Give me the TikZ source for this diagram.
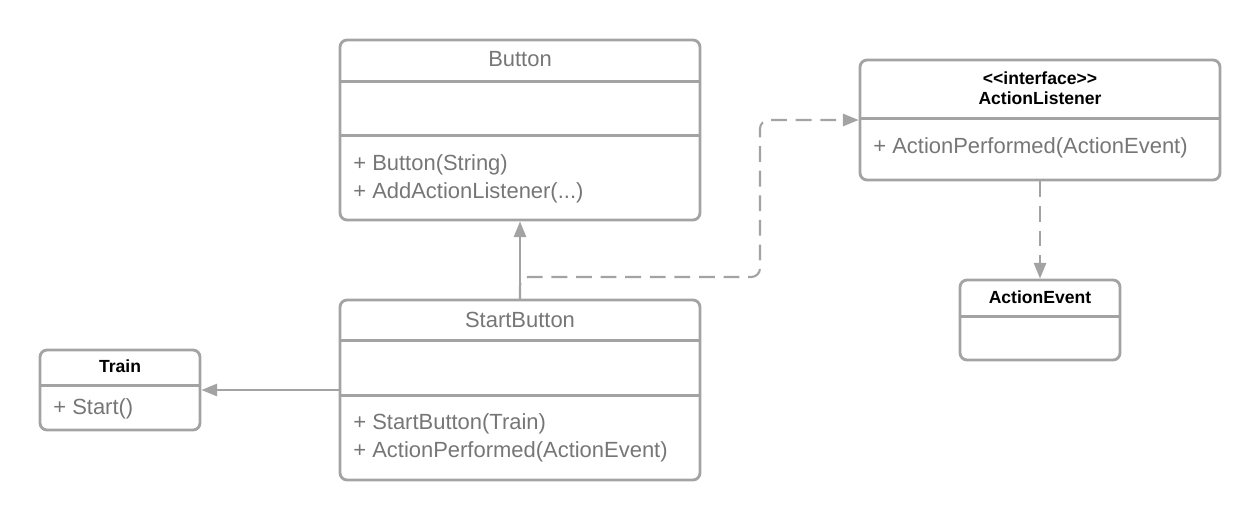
\documentclass[tikz,border=0pt]{standalone}
\usepackage{fontspec}
\setmainfont{Liberation Sans}
\usepackage{tikz}
\usetikzlibrary{arrows.meta, positioning}
\definecolor{linegray}{RGB}{163,163,163}
\definecolor{textgray}{RGB}{118,118,118}

\tikzset{
  classbox/.style={draw=linegray, line width=1.6pt, rounded corners=4pt, inner sep=0pt},
  divider/.style={draw=linegray, line width=1.6pt},
  plaintitle/.style={font=\fontsize{12.5}{15}\selectfont, text=textgray},
  boldtitle/.style={font=\fontsize{10}{11.5}\selectfont\bfseries, text=black, align=center},
  member/.style={font=\fontsize{12.5}{16}\selectfont, text=textgray, align=left, anchor=west, inner sep=0pt},
  assoc/.style={draw=linegray, line width=1.2pt, -{Triangle[length=9pt, width=7pt]}},
  depend/.style={assoc, dash pattern=on 9pt off 5pt, rounded corners=5pt}
}

\begin{document}
\begin{tikzpicture}[x=0.02cm, y=-0.02cm]
  \useasboundingbox (0,0) rectangle (1260,520);

  % Button class
  \node[classbox, minimum width=7.2cm, minimum height=3.6cm] (button) at (520,130) {};
  \node[plaintitle] (buttonname) at (520,59) {Button};
  \draw[divider] ([yshift=-0.86cm]button.north west) -- ([yshift=-0.86cm]button.north east);
  \draw[divider] ([yshift=-1.94cm]button.north west) -- ([yshift=-1.94cm]button.north east);
  \node[member] (buttonops) at (353,179) {+ Button(String)\\+ AddActionListener(...)};

  % ActionListener interface
  \node[classbox, minimum width=7.2cm, minimum height=2.4cm] (listener) at (1040,120) {};
  \node[boldtitle] (listenername) at (1040,88) {{<}{<}interface{>}{>}\\ActionListener};
  \draw[divider] ([yshift=-1.2cm]listener.north west) -- ([yshift=-1.2cm]listener.north east);
  \node[member] (listenerops) at (873,148) {+ ActionPerformed(ActionEvent)};

  % ActionEvent class
  \node[classbox, minimum width=3.2cm, minimum height=1.6cm] (event) at (1040,320) {};
  \node[boldtitle] (eventname) at (1040,297) {ActionEvent};
  \draw[divider] ([yshift=-0.76cm]event.north west) -- ([yshift=-0.76cm]event.north east);

  % StartButton class
  \node[classbox, minimum width=7.2cm, minimum height=3.6cm] (startbutton) at (520,390) {};
  \node[plaintitle] (startbuttonname) at (520,320) {StartButton};
  \draw[divider] ([yshift=-0.84cm]startbutton.north west) -- ([yshift=-0.84cm]startbutton.north east);
  \draw[divider] ([yshift=-1.94cm]startbutton.north west) -- ([yshift=-1.94cm]startbutton.north east);
  \node[member] (startbuttonops) at (353,438) {+ StartButton(Train)\\+ ActionPerformed(ActionEvent)};

  % Train class
  \node[classbox, minimum width=3.2cm, minimum height=1.6cm] (train) at (120,390) {};
  \node[boldtitle] (trainname) at (120,366) {Train};
  \draw[divider] ([yshift=-0.74cm]train.north west) -- ([yshift=-0.74cm]train.north east);
  \node[member] (trainops) at (53,409) {+ Start()};

  % relations
  \coordinate (bend) at (760,277);
  \draw[assoc] (startbutton.north) -- (button.south);
  \draw[depend] (startbutton.north) |- (bend) |- (listener.west);
  \draw[depend] (listener.south) -- (event.north);
  \draw[assoc] (startbutton.west) -- (train.east);
\end{tikzpicture}
\end{document}
